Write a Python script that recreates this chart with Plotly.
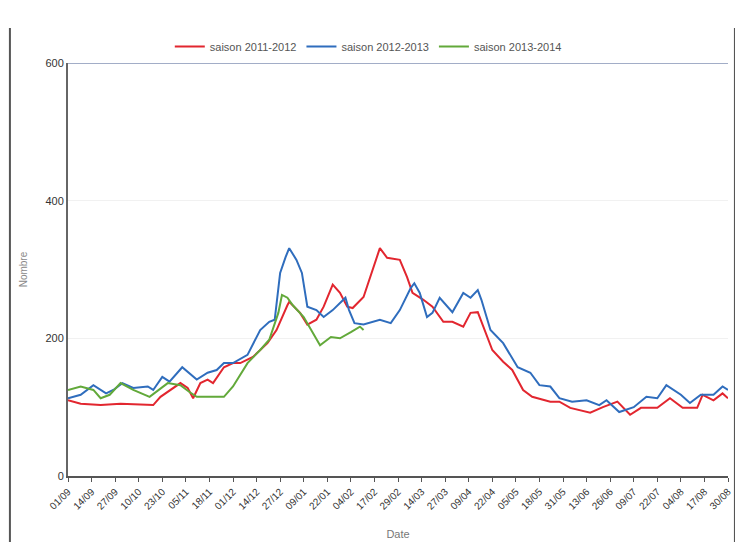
import plotly.graph_objects as go

tick_labels = ["01/09", "14/09", "27/09", "10/10", "23/10", "05/11", "18/11", "01/12",
               "14/12", "27/12", "09/01", "22/01", "04/02", "17/02", "29/02", "14/03",
               "27/03", "09/04", "22/04", "05/05", "18/05", "31/05", "13/06", "26/06",
               "09/07", "22/07", "04/08", "17/08", "30/08"]
tick_step_days = 13

red_days = [0, 7, 18, 29, 47, 51, 62, 66, 69, 73, 77, 80, 86, 91, 95, 102, 110, 115, 121, 122,
            128, 132, 137, 141, 146, 150, 154, 157, 163, 168, 172, 176, 183, 187, 190, 196, 201,
            207, 212, 218, 222, 226, 229, 234, 240, 245, 251, 256, 266, 271, 277, 288, 295, 303,
            310, 316, 325, 332, 339, 347, 350, 356, 361, 364]
red_vals = [110, 105, 103, 105, 103, 115, 135, 128, 113, 135, 140, 135, 158, 164, 164, 173, 193,
            212, 248, 253, 237, 220, 227, 246, 278, 266, 246, 244, 260, 300, 331, 317, 314, 289,
            266, 256, 246, 224, 224, 217, 237, 238, 217, 183, 166, 154, 125, 115, 108, 108, 99,
            92, 100, 108, 89, 99, 99, 113, 99, 99, 118, 110, 120, 113]

blue_days = [0, 7, 14, 21, 25, 30, 36, 44, 47, 52, 56, 63, 71, 77, 82, 86, 91, 99, 106, 111,
             114, 117, 120, 122, 126, 129, 132, 137, 141, 146, 153, 155, 158, 163, 172, 178, 183,
             189, 191, 194, 198, 201, 205, 212, 218, 222, 226, 228, 233, 240, 248, 255, 260, 266,
             271, 278, 286, 293, 297, 304, 312, 319, 325, 330, 338, 343, 349, 356, 361, 364]
blue_vals = [113, 118, 132, 120, 125, 135, 128, 130, 125, 144, 137, 158, 140, 150, 154, 164,
             164, 176, 212, 224, 227, 295, 318, 331, 314, 295, 246, 241, 231, 241, 259, 241, 222,
             220, 227, 222, 241, 273, 280, 266, 231, 237, 259, 238, 266, 259, 270, 256, 212, 193,
             158, 150, 132, 130, 113, 108, 110, 103, 110, 93, 100, 115, 113, 132, 118, 106, 118,
             118, 130, 125]

green_days = [0, 7, 14, 18, 23, 29, 36, 45, 55, 62, 67, 71, 78, 86, 91, 99, 106, 111, 116, 118,
              121, 124, 130, 134, 139, 145, 150, 156, 161, 163]
green_vals = [125, 130, 125, 113, 118, 135, 125, 115, 135, 132, 122, 115, 115, 115, 130, 164,
              183, 198, 237, 263, 259, 248, 231, 212, 190, 202, 200, 209, 217, 212]

series = [
    ("saison 2011-2012", red_days, red_vals, "#e2262f"),
    ("saison 2012-2013", blue_days, blue_vals, "#2f6dbd"),
    ("saison 2013-2014", green_days, green_vals, "#62a93a"),
]

fig = go.Figure()
for name, xs, ys, col in series:
    fig.add_trace(go.Scatter(x=xs, y=ys, mode="lines", name=name,
                             line=dict(color=col, width=2)))

tickvals = [i * tick_step_days for i in range(len(tick_labels))]

fig.update_layout(
    width=735, height=534,
    margin=dict(l=60, r=15, t=55, b=66, autoexpand=False),
    paper_bgcolor="white", plot_bgcolor="white",
    font=dict(family="Liberation Sans, Arial, sans-serif", color="#444"),
    showlegend=True,
    legend=dict(orientation="h", x=0.455, xanchor="center", y=1.005, yanchor="bottom",
                font=dict(size=11, color="#555"), tracegroupgap=0),
    xaxis=dict(range=[0, tickvals[-1]], tickmode="array", tickvals=tickvals,
               ticktext=tick_labels, tickangle=-45, tickfont=dict(size=10, color="#333"),
               showgrid=False, zeroline=False, showline=True, linecolor="#555",
               linewidth=2, ticks="outside", ticklen=4, tickcolor="#555", automargin=False,
               title=dict(text="Date", font=dict(size=11, color="#777"), standoff=20)),
    yaxis=dict(range=[0, 600], tickvals=[0, 200, 400, 600], showgrid=True,
               gridcolor="#f1f1f1", zeroline=False, showline=True, linecolor="#666",
               linewidth=2, tickfont=dict(size=11, color="#333"), automargin=False,
               title=dict(text="Nombre", font=dict(size=10, color="#888"), standoff=16)),
)

# top blue-grey reference line at 600
fig.add_shape(type="line", xref="paper", yref="y", x0=0, x1=1, y0=600, y1=600,
              line=dict(color="#8392b5", width=1.5))
# outer frame
fig.add_shape(type="line", xref="paper", yref="paper", x0=-0.088, x1=-0.088, y0=-0.2, y1=1.085,
              line=dict(color="#555", width=2))
fig.add_shape(type="line", xref="paper", yref="paper", x0=1.0105, x1=1.0105, y0=-0.2, y1=1.085,
              line=dict(color="#555", width=2))

fig.write_html("out.html")
